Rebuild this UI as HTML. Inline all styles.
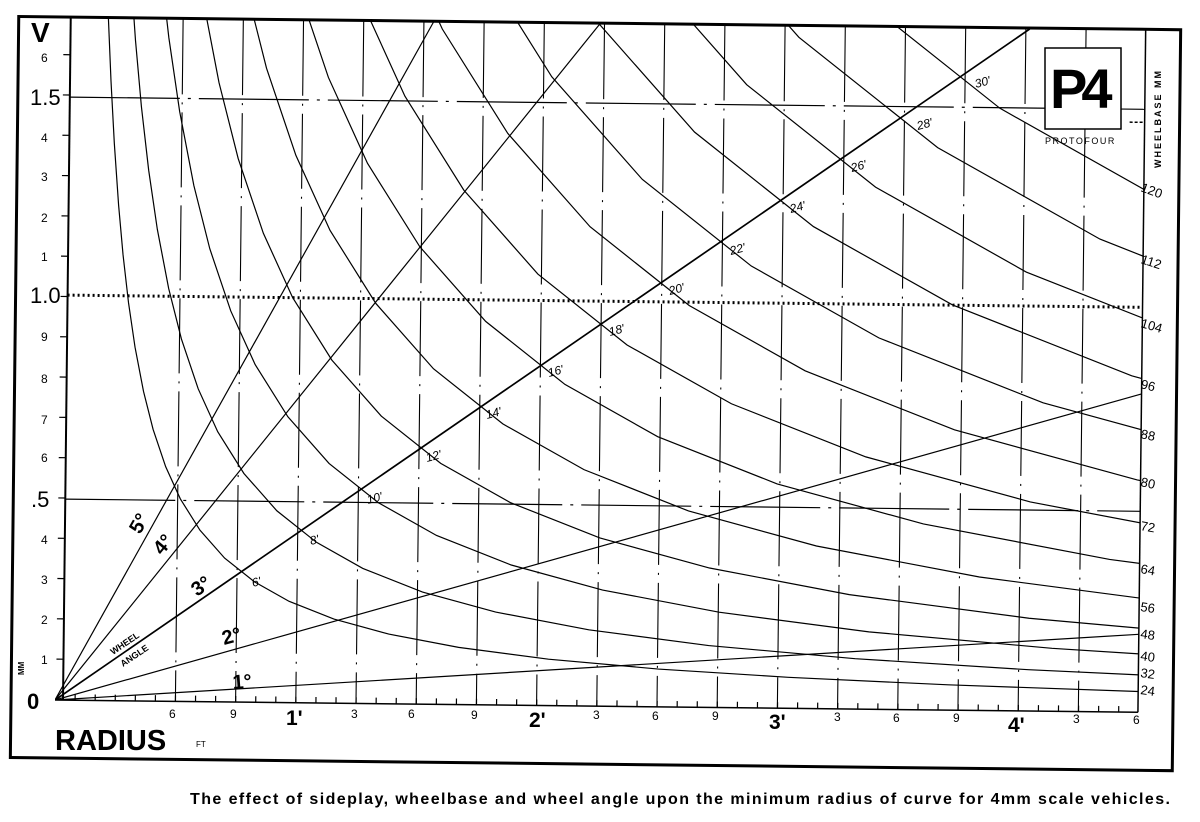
<!DOCTYPE html>
<html><head><meta charset="utf-8">
<style>
html,body{margin:0;padding:0;background:#fff;}
svg{display:block;}
text{font-family:"Liberation Sans",sans-serif;fill:#000;}
</style></head>
<body>
<svg width="1200" height="822" viewBox="0 0 1200 822" xmlns="http://www.w3.org/2000/svg">
<defs>
<clipPath id="c"><rect x="55" y="18" width="1083" height="682"/></clipPath>
<path id="hb" d="M32.7,-681.7L36,-619.2L40,-557.3L45,-495.4L50,-445.8L56,-398.1L63,-353.8L72,-309.6L82,-271.8L95,-234.6L110,-202.6L130,-171.5L155,-143.8L185,-120.5L220,-101.3L265,-84.1L320,-69.7L390,-57.2L480,-46.4L590,-37.8L720,-31.0L880,-25.3L1070,-20.8" fill="none" stroke="#000" stroke-width="1.2" vector-effect="non-scaling-stroke"/>
</defs>
<g transform="rotate(0.65 55 700)">
  <rect x="11" y="17" width="1162" height="741" fill="none" stroke="#000" stroke-width="3"/>
  <line x1="63" y1="18" x2="63" y2="700" stroke="#000" stroke-width="2"/>
  <line x1="55" y1="700" x2="1138" y2="700" stroke="#000" stroke-width="1.5"/>
  <line x1="1138" y1="18" x2="1138" y2="700" stroke="#000" stroke-width="1.5"/>
  <path d="M175.4,18V700M235.6,18V700M295.8,18V700M356,18V700M416.2,18V700M476.4,18V700M536.6,18V700M596.8,18V700M657,18V700M717.2,18V700M777.4,18V700M837.6,18V700M897.8,18V700M958,18V700M1018.2,18V700M1078.4,18V700" stroke="#000" stroke-width="1.1" stroke-dasharray="75,8,2,8" fill="none"/>
  <line x1="74.5" y1="697" x2="1138" y2="697" stroke="#000" stroke-width="6" stroke-dasharray="1.2,18.87"/>
  <line x1="59.5" y1="659.7" x2="59.5" y2="18" stroke="#000" stroke-width="7" stroke-dasharray="1.2,39.1"/>
  <g clip-path="url(#c)">
    <use href="#hb" transform="translate(68,700) scale(1)"/>
    <use href="#hb" transform="translate(68,700) scale(1.3333)"/>
    <use href="#hb" transform="translate(68,700) scale(1.6667)"/>
    <use href="#hb" transform="translate(68,700) scale(2)"/>
    <use href="#hb" transform="translate(68,700) scale(2.3333)"/>
    <use href="#hb" transform="translate(68,700) scale(2.6667)"/>
    <use href="#hb" transform="translate(68,700) scale(3)"/>
    <use href="#hb" transform="translate(68,700) scale(3.3333)"/>
    <use href="#hb" transform="translate(68,700) scale(3.6667)"/>
    <use href="#hb" transform="translate(68,700) scale(4)"/>
    <use href="#hb" transform="translate(68,700) scale(4.3333)"/>
    <use href="#hb" transform="translate(68,700) scale(4.6667)"/>
    <use href="#hb" transform="translate(68,700) scale(5)"/>
    <g stroke="#000" stroke-width="1.2">
      <line x1="55" y1="700" x2="1138" y2="622"/>
      <line x1="55" y1="700" x2="1138" y2="381.6"/>
      <line x1="55" y1="700" x2="1022" y2="18" stroke-width="1.7"/>
      <line x1="55" y1="700" x2="592" y2="18"/>
      <line x1="55" y1="700" x2="425.7" y2="18"/>
    </g>
  </g>
  <line x1="63" y1="97" x2="1138" y2="97" stroke="#000" stroke-width="1.2" stroke-dasharray="110,8,3,8"/>
  <line x1="63" y1="499" x2="1138" y2="499" stroke="#000" stroke-width="1.2" stroke-dasharray="110,8,3,8"/>
  <line x1="63" y1="295" x2="1138" y2="295" stroke="#000" stroke-width="3" stroke-dasharray="2,3"/>
  <line x1="1123" y1="110" x2="1138" y2="110" stroke="#000" stroke-width="1.5" stroke-dasharray="3,2"/>
</g>

<g font-size="12">
<text x="41" y="62">6</text>
<text x="41" y="142">4</text>
<text x="41" y="181">3</text>
<text x="41" y="222">2</text>
<text x="41" y="261">1</text>
<text x="41" y="341">9</text>
<text x="41" y="383">8</text>
<text x="41" y="424">7</text>
<text x="41" y="462">6</text>
<text x="41" y="544">4</text>
<text x="41" y="584">3</text>
<text x="41" y="624">2</text>
<text x="41" y="664">1</text>
</g>
<text x="31" y="42" font-size="28" font-weight="bold">V</text>
<text x="30" y="105" font-size="22">1.5</text>
<text x="30" y="303" font-size="22">1.0</text>
<text x="31" y="507" font-size="22">.5</text>
<text x="27" y="709" font-size="22" font-weight="bold">0</text>
<text transform="translate(24,675) rotate(-90)" font-size="8" font-weight="bold">MM</text>

<g font-size="12">
<text x="169" y="718">6</text><text x="230" y="718">9</text>
<text x="351" y="718">3</text><text x="408" y="718">6</text><text x="471" y="719">9</text>
<text x="593" y="719">3</text><text x="652" y="720">6</text><text x="712" y="720">9</text>
<text x="834" y="721">3</text><text x="893" y="722">6</text><text x="953" y="722">9</text>
<text x="1073" y="723">3</text><text x="1133" y="724">6</text>
</g>
<g font-size="21" font-weight="bold">
<text x="286" y="725">1'</text><text x="529" y="727">2'</text>
<text x="769" y="729">3'</text><text x="1008" y="732">4'</text>
</g>
<text x="55" y="750" font-size="29" font-weight="bold">RADIUS</text>
<text x="196" y="747" font-size="8">FT</text>

<g font-size="20" font-weight="bold">
<text transform="translate(140,535) rotate(-60)">5°</text>
<text transform="translate(162,556) rotate(-50)">4°</text>
<text transform="translate(197,597) rotate(-35)">3°</text>
<text transform="translate(224,645) rotate(-15)">2°</text>
<text transform="translate(233,689) rotate(-4)">1°</text>
</g>
<g font-size="9" font-weight="bold">
<text transform="translate(113,655) rotate(-34)">WHEEL</text>
<text transform="translate(123,667) rotate(-34)">ANGLE</text>
</g>

<g font-size="12" font-style="italic">
<text transform="translate(253,587) rotate(-15)">6'</text>
<text transform="translate(311,545) rotate(-15)">8'</text>
<text transform="translate(368,504) rotate(-15)">10'</text>
<text transform="translate(427,462) rotate(-15)">12'</text>
<text transform="translate(487,419) rotate(-15)">14'</text>
<text transform="translate(549,377) rotate(-15)">16'</text>
<text transform="translate(610,336) rotate(-15)">18'</text>
<text transform="translate(670,295) rotate(-15)">20'</text>
<text transform="translate(731,255) rotate(-15)">22'</text>
<text transform="translate(791,213) rotate(-15)">24'</text>
<text transform="translate(852,172) rotate(-15)">26'</text>
<text transform="translate(918,130) rotate(-15)">28'</text>
<text transform="translate(976,88) rotate(-15)">30'</text>
</g>

<g font-size="13">
<text transform="translate(1140,694) rotate(8)">24</text>
<text transform="translate(1140,677) rotate(8)">32</text>
<text transform="translate(1140,660) rotate(8)">40</text>
<text transform="translate(1140,638) rotate(8)">48</text>
<text transform="translate(1140,611) rotate(8)">56</text>
<text transform="translate(1140,573) rotate(10)">64</text>
<text transform="translate(1140,530) rotate(10)">72</text>
<text transform="translate(1140,486) rotate(12)">80</text>
<text transform="translate(1140,438) rotate(12)">88</text>
<text transform="translate(1140,388) rotate(14)">96</text>
<text transform="translate(1140,327) rotate(16)">104</text>
<text transform="translate(1140,263) rotate(18)">112</text>
<text transform="translate(1140,191) rotate(20)">120</text>
</g>

<rect x="1045" y="48" width="76" height="81" fill="#fff" stroke="#000" stroke-width="1.5"/>
<text x="1050" y="108" font-size="56" font-weight="bold" letter-spacing="-6">P4</text>
<text x="1045" y="144" font-size="9" letter-spacing="1.5">PROTOFOUR</text>
<text transform="translate(1161,168) rotate(-90)" font-size="9" font-weight="bold" letter-spacing="2">WHEELBASE   MM</text>

<text x="190" y="804" font-size="16" font-weight="bold" textLength="980" lengthAdjust="spacing">The effect of sideplay, wheelbase and wheel angle upon the minimum radius of curve for 4mm scale vehicles.</text>
</svg>
</body></html>
